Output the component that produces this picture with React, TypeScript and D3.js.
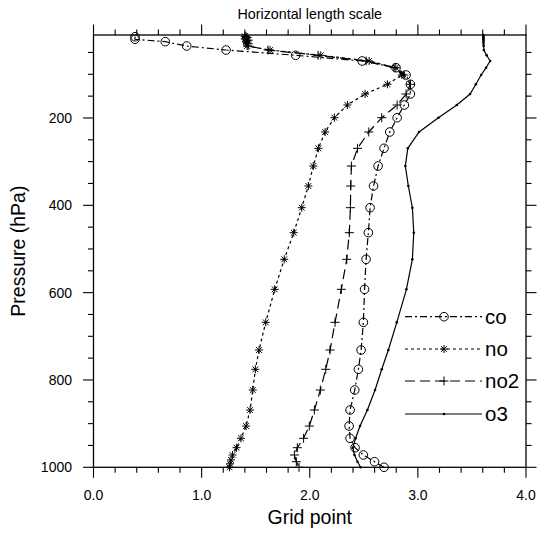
import React from "react";
import * as d3 from "d3";

// ---------- data (pressure in hPa, value in grid points) ----------
const coP = [14, 19.8, 25.3, 35.2, 44.4, 56.5, 69.5, 84.9, 101.6, 122.9, 145.1, 170.3, 199.4, 232.1, 269.5, 310, 355.8, 405.5, 462.7, 523.7, 592.4, 668, 731.4, 775.6, 823, 868.8, 905.5, 933.6, 955.1, 971.8, 987.2, 1000];
const coV = [0.384, 0.384, 0.664, 0.862, 1.226, 1.870, 2.484, 2.798, 2.891, 2.931, 2.931, 2.875, 2.808, 2.740, 2.687, 2.632, 2.590, 2.558, 2.542, 2.521, 2.507, 2.496, 2.475, 2.450, 2.416, 2.373, 2.364, 2.373, 2.419, 2.496, 2.599, 2.687];

const noP = [13, 16, 19, 22, 26, 30, 35.2, 44.4, 56.5, 69.5, 84.9, 101.6, 122.9, 145.1, 170.3, 199.4, 232.1, 269.5, 310, 355.8, 405.5, 462.7, 523.7, 592.4, 668, 731.4, 775.6, 823, 868.8, 905.5, 933.6, 955.1, 971.8, 983, 992, 1000];
const noV = [1.40, 1.41, 1.40, 1.42, 1.41, 1.42, 1.42, 1.633, 2.102, 2.549, 2.796, 2.851, 2.718, 2.512, 2.348, 2.228, 2.142, 2.080, 2.033, 1.987, 1.926, 1.852, 1.764, 1.676, 1.593, 1.531, 1.497, 1.473, 1.448, 1.411, 1.364, 1.323, 1.286, 1.272, 1.263, 1.258];

const no2P = [13, 16, 19, 22, 26, 30, 35.2, 44.4, 56.5, 69.5, 84.9, 101.6, 122.9, 145.1, 170.3, 199.4, 232.1, 269.5, 310, 355.8, 405.5, 462.7, 523.7, 592.4, 668, 731.4, 775.6, 823, 868.8, 905.5, 933.6, 955.1, 971.8, 987.2, 1000];
const no2V = [1.41, 1.42, 1.41, 1.43, 1.42, 1.43, 1.43, 1.614, 2.077, 2.521, 2.780, 2.872, 2.931, 2.891, 2.808, 2.666, 2.546, 2.442, 2.385, 2.379, 2.376, 2.366, 2.342, 2.292, 2.234, 2.188, 2.148, 2.098, 2.043, 1.996, 1.943, 1.885, 1.858, 1.876, 1.901];

const o3P = [10, 12, 14, 16, 18, 20, 23, 26, 30, 35.2, 44.4, 56.5, 69.5, 84.9, 101.6, 122.9, 145.1, 170.3, 199.4, 232.1, 269.5, 310, 355.8, 405.5, 462.7, 523.7, 592.4, 668, 731.4, 775.6, 823, 868.8, 905.5, 933.6, 955.1, 971.8, 987.2, 1000];
const o3V = [3.605, 3.605, 3.606, 3.606, 3.605, 3.606, 3.607, 3.606, 3.607, 3.608, 3.610, 3.636, 3.668, 3.631, 3.585, 3.536, 3.483, 3.360, 3.190, 3.011, 2.907, 2.884, 2.912, 2.949, 2.962, 2.949, 2.894, 2.805, 2.727, 2.666, 2.604, 2.533, 2.465, 2.424, 2.398, 2.414, 2.442, 2.470];

const seriesNames = ["co", "no", "no2", "o3"];
const xMajorTicks = [0, 1, 2, 3, 4];
const yMajorTicks = [200, 400, 600, 800, 1000];

const titleText = "Horizontal length scale";
const xTitle = "Grid point";
const yTitle = "Pressure (hPa)";

// ---------- layout ----------
const W = 539;
const H = 535;
const L = 93.5, R = 526, T = 35, B = 467.3;
const FONT = "'Liberation Sans', Arial, Helvetica, sans-serif";

const x = d3.scaleLinear().domain([0, 4]).range([L, R]);
const y = d3.scaleLinear().domain([10, 1000]).range([T, B]);

const dashes: Record<string, string | undefined> = {
  co: "7,3,2,3",
  no: "3,3",
  no2: "10,5",
  o3: undefined,
};

function Marker({ kind, cx, cy }: { kind: string; cx: number; cy: number }) {
  if (kind === "co") {
    return <circle cx={cx} cy={cy} r={4.3} fill="white" fillOpacity={0} stroke="black" strokeWidth={1} />;
  }
  if (kind === "no") {
    const r = 4;
    const d = r * 0.72;
    return (
      <g stroke="black" strokeWidth={1}>
        <line x1={cx} y1={cy - r} x2={cx} y2={cy + r} />
        <line x1={cx - r} y1={cy} x2={cx + r} y2={cy} />
        <line x1={cx - d} y1={cy - d} x2={cx + d} y2={cy + d} />
        <line x1={cx - d} y1={cy + d} x2={cx + d} y2={cy - d} />
      </g>
    );
  }
  if (kind === "no2") {
    const r = 4.5;
    return (
      <g stroke="black" strokeWidth={1}>
        <line x1={cx} y1={cy - r} x2={cx} y2={cy + r} />
        <line x1={cx - r} y1={cy} x2={cx + r} y2={cy} />
      </g>
    );
  }
  return <circle cx={cx} cy={cy} r={1.3} fill="black" />;
}

export default function App() {
  const series = [
    { name: "co", P: coP, V: coV },
    { name: "no", P: noP, V: noV },
    { name: "no2", P: no2P, V: no2V },
    { name: "o3", P: o3P, V: o3V },
  ];
  const line = d3
    .line<[number, number]>()
    .x((d) => x(d[0]))
    .y((d) => y(d[1]));

  const xMinor = d3.range(0, 4.0001, 0.2).filter((v) => Math.abs(v - Math.round(v)) > 1e-6);
  const yMinor = d3.range(50, 1001, 50).filter((v) => v % 200 !== 0);
  const majLen = 10.5;
  const minLen = 5.5;

  const legendY = [316.7, 349, 381, 414];
  const legX1 = 405, legX2 = 482, legM = 444;

  return (
    <div style={{ position: "absolute", left: 0, top: 0 }}>
      <svg width={W} height={H} style={{ display: "block", background: "white" }} fontFamily={FONT}>
        <rect x={0} y={0} width={W} height={H} fill="white" />
        {/* title */}
        <text x={(L + R) / 2} y={18.5} textAnchor="middle" fontSize={14.3}>{titleText}</text>

        {/* data lines */}
        {series.map((s) => {
          const pts: [number, number][] = s.P.map((p, i) => [s.V[i], p]);
          return (
            <g key={s.name}>
              <path d={line(pts) || ""} fill="none" stroke="black" strokeWidth={1.2} strokeDasharray={dashes[s.name]} />
              {pts.map((d, i) => (
                <Marker key={i} kind={s.name} cx={x(d[0])} cy={y(d[1])} />
              ))}
            </g>
          );
        })}

        {/* frame */}
        <rect x={L} y={T} width={R - L} height={B - T} fill="none" stroke="black" strokeWidth={1.3} />

        {/* x ticks */}
        <g stroke="black" strokeWidth={1.1}>
          {xMajorTicks.map((v) => (
            <g key={"xm" + v}>
              <line x1={x(v)} x2={x(v)} y1={B} y2={B + majLen} />
              <line x1={x(v)} x2={x(v)} y1={T} y2={T - majLen} />
            </g>
          ))}
          {xMinor.map((v, i) => (
            <g key={"xn" + i}>
              <line x1={x(v)} x2={x(v)} y1={B} y2={B + minLen} />
              <line x1={x(v)} x2={x(v)} y1={T} y2={T - minLen} />
            </g>
          ))}
          {yMajorTicks.map((v) => (
            <g key={"ym" + v}>
              <line x1={L} x2={L - majLen} y1={y(v)} y2={y(v)} />
              <line x1={R} x2={R + majLen} y1={y(v)} y2={y(v)} />
            </g>
          ))}
          {yMinor.map((v) => (
            <g key={"yn" + v}>
              <line x1={L} x2={L - minLen} y1={y(v)} y2={y(v)} />
              <line x1={R} x2={R + minLen} y1={y(v)} y2={y(v)} />
            </g>
          ))}
        </g>

        {/* tick labels */}
        {xMajorTicks.map((v) => (
          <text key={"xl" + v} x={x(v)} y={500} textAnchor="middle" fontSize={14}>
            {d3.format(".1f")(v)}
          </text>
        ))}
        {yMajorTicks.map((v) => (
          <text key={"yl" + v} x={72} y={y(v) + 5} textAnchor="end" fontSize={14}>
            {v}
          </text>
        ))}

        {/* axis titles */}
        <text x={(L + R) / 2} y={523.5} textAnchor="middle" fontSize={19.5}>{xTitle}</text>
        <text transform={`translate(25, ${(T + B) / 2}) rotate(-90)`} textAnchor="middle" fontSize={19.5}>
          {yTitle}
        </text>

        {/* legend */}
        {seriesNames.map((n, i) => (
          <g key={"leg" + n}>
            <line x1={legX1} x2={legX2} y1={legendY[i]} y2={legendY[i]} stroke="black" strokeWidth={1.2} strokeDasharray={dashes[n]} />
            <Marker kind={n} cx={legM} cy={legendY[i]} />
            <text x={485} y={legendY[i] + 7} fontSize={20.5}>{n}</text>
          </g>
        ))}
      </svg>
    </div>
  );
}
